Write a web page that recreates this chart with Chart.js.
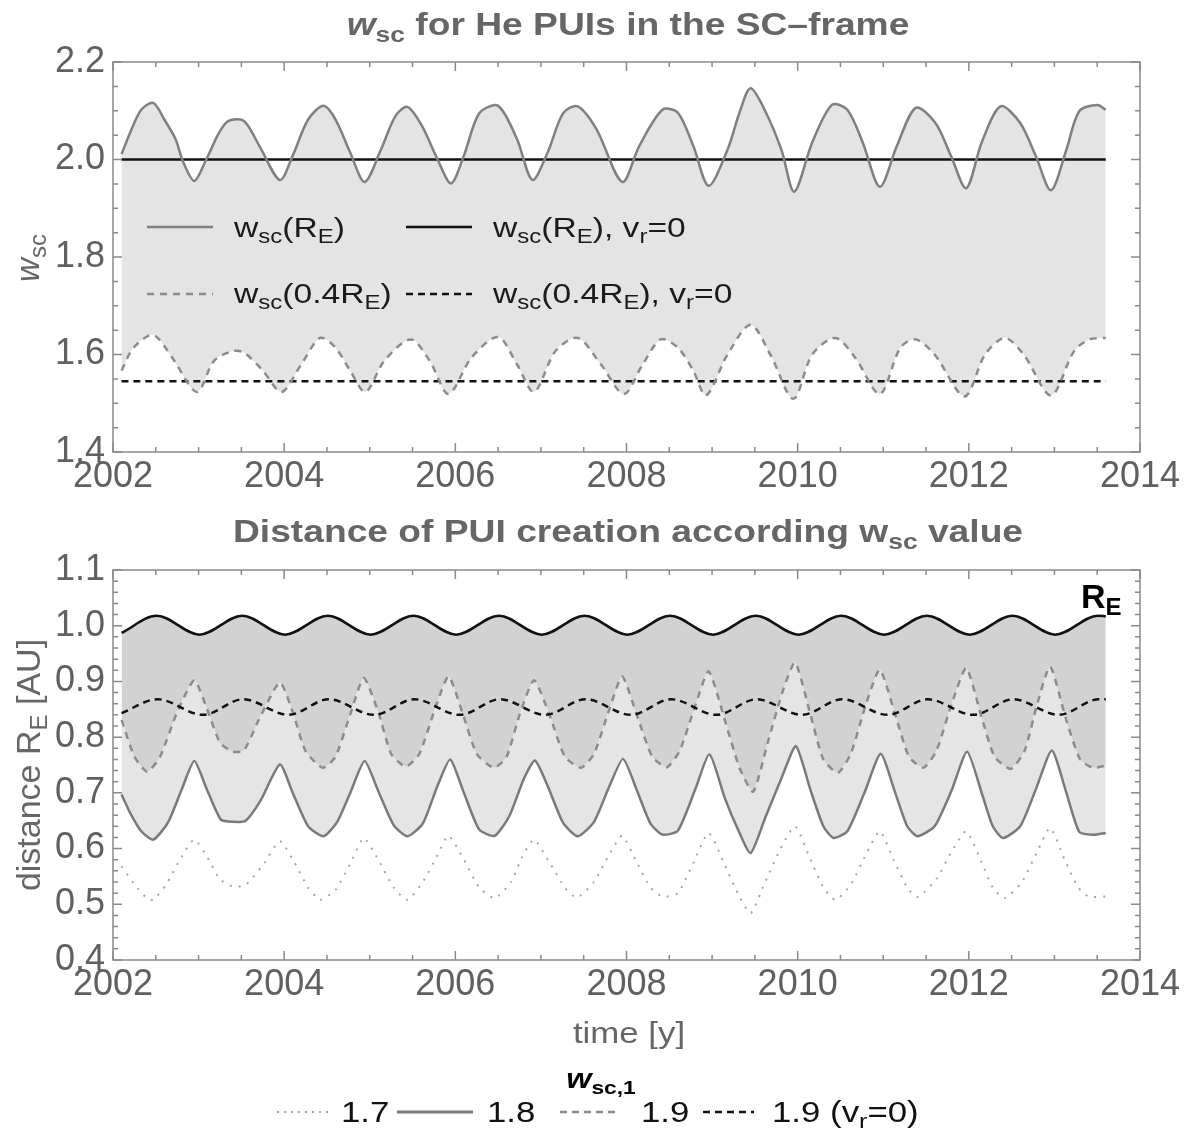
<!DOCTYPE html>
<html>
<head>
<meta charset="utf-8">
<script src="https://cdn.jsdelivr.net/npm/chart.js@4.4.1/dist/chart.umd.min.js"></script>
<style>
  html, body { margin: 0; padding: 0; background: #fff; }
  #wrap { position: relative; width: 1189px; height: 1135px; }
  canvas { position: absolute; left: 0; }
  #top { top: 0; }
  #bot { top: 505px; }
</style>
</head>
<body>
<div id="wrap">
  <canvas id="top" width="1189" height="505"></canvas>
  <canvas id="bot" width="1189" height="630"></canvas>
</div>
<script>
// ---- data ----
const yearTicks = [2002, 2004, 2006, 2008, 2010, 2012, 2014];
const wscTicks = [1.4, 1.6, 1.8, 2.0, 2.2];
const distTicks = [0.4, 0.5, 0.6, 0.7, 0.8, 0.9, 1.0, 1.1];

// top panel: w_sc(R_E)
const wscYears = [2002.10, 2002.20, 2002.33, 2002.47, 2002.60, 2002.73, 2002.82, 2002.95,
  2003.09, 2003.24, 2003.35, 2003.53, 2003.71, 2003.95,
  2004.10, 2004.28, 2004.46, 2004.60, 2004.77, 2004.94,
  2005.13, 2005.30, 2005.44, 2005.61, 2005.79, 2005.95,
  2006.10, 2006.28, 2006.50, 2006.72, 2006.90,
  2007.08, 2007.26, 2007.43, 2007.65, 2007.95,
  2008.15, 2008.42, 2008.60, 2008.78, 2008.96,
  2009.18, 2009.32, 2009.45, 2009.63, 2009.81, 2009.96,
  2010.17, 2010.40, 2010.58, 2010.76, 2010.96,
  2011.16, 2011.38, 2011.61, 2011.79, 2011.97,
  2012.15, 2012.37, 2012.60, 2012.78, 2012.96,
  2013.14, 2013.29, 2013.50, 2013.60];
const wscRE = [2.011, 2.055, 2.102, 2.116, 2.082, 2.042, 1.995, 1.956,
  2.000, 2.055, 2.079, 2.079, 2.028, 1.958,
  2.008, 2.082, 2.110, 2.082, 2.015, 1.954,
  2.020, 2.089, 2.108, 2.069, 2.001, 1.951,
  2.008, 2.095, 2.110, 2.042, 1.958,
  2.015, 2.095, 2.109, 2.062, 1.954,
  2.028, 2.102, 2.096, 2.028, 1.946,
  2.020, 2.096, 2.146, 2.096, 2.020, 1.934,
  2.035, 2.112, 2.102, 2.035, 1.944,
  2.028, 2.106, 2.075, 2.008, 1.941,
  2.035, 2.109, 2.075, 2.008, 1.937,
  2.020, 2.099, 2.112, 2.102];

// top panel: w_sc(0.4 R_E)
const wsc04Years = [2002.10, 2002.24, 2002.47, 2002.69, 2002.98, 2003.18, 2003.40, 2003.53, 2003.75, 2003.97,
  2004.20, 2004.42, 2004.60, 2004.77, 2004.95, 2005.17, 2005.48, 2005.70, 2005.92,
  2006.19, 2006.50, 2006.72, 2006.92, 2007.17, 2007.43, 2007.70, 2007.97,
  2008.19, 2008.40, 2008.60, 2008.78, 2008.93, 2009.18, 2009.45, 2009.68, 2009.95,
  2010.17, 2010.44, 2010.67, 2010.96, 2011.20, 2011.38, 2011.60, 2011.95,
  2012.19, 2012.42, 2012.64, 2012.96, 2013.23, 2013.41, 2013.60];
const wsc04 = [1.567, 1.614, 1.640, 1.594, 1.523, 1.587, 1.607, 1.604, 1.567, 1.523,
  1.580, 1.634, 1.614, 1.567, 1.523, 1.587, 1.631, 1.587, 1.519,
  1.594, 1.636, 1.580, 1.523, 1.607, 1.634, 1.580, 1.519,
  1.580, 1.631, 1.614, 1.567, 1.516, 1.600, 1.661, 1.600, 1.509,
  1.600, 1.634, 1.594, 1.519, 1.614, 1.631, 1.600, 1.514,
  1.600, 1.634, 1.600, 1.516, 1.607, 1.631, 1.634];

// top panel: v_r = 0 reference levels
const flatYears = [2002.10, 2013.60];
const wscREvr0 = [2.0, 2.0];
const wsc04vr0 = [1.545, 1.545];

// bottom panel: R_E (AU)
const reYears = [2002.10, 2002.51, 2003.01, 2003.51, 2004.01, 2004.51, 2005.01, 2005.51, 2006.01, 2006.51,
  2007.01, 2007.51, 2008.01, 2008.51, 2009.01, 2009.51, 2010.01, 2010.51, 2011.01, 2011.51,
  2012.01, 2012.51, 2013.01, 2013.51, 2013.60];
const reDist = [0.987, 1.018, 0.984, 1.018, 0.984, 1.018, 0.984, 1.018, 0.984, 1.018,
  0.984, 1.018, 0.984, 1.018, 0.984, 1.018, 0.984, 1.018, 0.984, 1.018,
  0.984, 1.018, 0.984, 1.018, 1.017];

// bottom panel: w_sc,1 = 1.9, v_r = 0
const vr0Years = [2002.10, 2002.52, 2003.05, 2003.52, 2004.05, 2004.52, 2005.05, 2005.52, 2006.05, 2006.52,
  2007.05, 2007.52, 2008.05, 2008.52, 2009.05, 2009.52, 2010.05, 2010.52, 2011.05, 2011.52,
  2012.05, 2012.52, 2013.05, 2013.52, 2013.60];
const vr0Dist = [0.843, 0.868, 0.840, 0.868, 0.840, 0.868, 0.840, 0.868, 0.840, 0.868,
  0.840, 0.868, 0.840, 0.868, 0.840, 0.868, 0.840, 0.868, 0.840, 0.868,
  0.840, 0.868, 0.840, 0.868, 0.868];

// bottom panel: w_sc,1 = 1.9
const d19Years = [2002.10, 2002.25, 2002.40, 2002.55, 2002.75, 2002.95, 2003.10, 2003.25, 2003.40, 2003.53, 2003.70, 2003.95,
  2004.10, 2004.25, 2004.45, 2004.60, 2004.77, 2004.93, 2005.10, 2005.25, 2005.42, 2005.58, 2005.75, 2005.92,
  2006.08, 2006.25, 2006.45, 2006.60, 2006.75, 2006.92, 2007.10, 2007.28, 2007.47, 2007.62, 2007.80, 2007.95,
  2008.12, 2008.30, 2008.47, 2008.62, 2008.80, 2008.96, 2009.15, 2009.32, 2009.48, 2009.65, 2009.82, 2009.97,
  2010.15, 2010.30, 2010.47, 2010.62, 2010.80, 2010.96, 2011.15, 2011.30, 2011.47, 2011.62, 2011.80, 2011.97,
  2012.15, 2012.30, 2012.49, 2012.65, 2012.80, 2012.95, 2013.13, 2013.30, 2013.45, 2013.60];
const d19 = [0.831, 0.765, 0.738, 0.765, 0.845, 0.902, 0.850, 0.790, 0.774, 0.776, 0.830, 0.898,
  0.845, 0.775, 0.745, 0.765, 0.840, 0.906, 0.845, 0.770, 0.747, 0.770, 0.845, 0.909,
  0.845, 0.770, 0.745, 0.765, 0.840, 0.902, 0.840, 0.765, 0.745, 0.770, 0.850, 0.909,
  0.840, 0.765, 0.746, 0.775, 0.855, 0.918, 0.830, 0.745, 0.702, 0.790, 0.880, 0.934,
  0.840, 0.760, 0.736, 0.770, 0.860, 0.921, 0.835, 0.765, 0.745, 0.775, 0.860, 0.924,
  0.835, 0.765, 0.743, 0.775, 0.860, 0.927, 0.835, 0.760, 0.745, 0.749];

// bottom panel: w_sc,1 = 1.8
const d18Years = [2002.10, 2002.20, 2002.33, 2002.47, 2002.64, 2002.80, 2002.95, 2003.10, 2003.26, 2003.40, 2003.55, 2003.72, 2003.95,
  2004.10, 2004.28, 2004.46, 2004.62, 2004.78, 2004.94, 2005.10, 2005.28, 2005.44, 2005.62, 2005.79, 2005.94,
  2006.10, 2006.28, 2006.46, 2006.63, 2006.80, 2006.93, 2007.08, 2007.26, 2007.43, 2007.62, 2007.80, 2007.96,
  2008.12, 2008.28, 2008.42, 2008.60, 2008.80, 2008.97, 2009.15, 2009.30, 2009.45, 2009.62, 2009.82, 2009.98,
  2010.15, 2010.30, 2010.42, 2010.58, 2010.78, 2010.97, 2011.14, 2011.28, 2011.40, 2011.60, 2011.80, 2011.98,
  2012.15, 2012.28, 2012.40, 2012.60, 2012.78, 2012.97, 2013.14, 2013.29, 2013.45, 2013.60];
const d18 = [0.697, 0.664, 0.631, 0.616, 0.646, 0.705, 0.757, 0.705, 0.652, 0.648, 0.650, 0.685, 0.751,
  0.700, 0.640, 0.622, 0.648, 0.703, 0.757, 0.703, 0.642, 0.622, 0.645, 0.712, 0.760,
  0.700, 0.634, 0.623, 0.658, 0.725, 0.758, 0.712, 0.646, 0.622, 0.648, 0.712, 0.761,
  0.705, 0.645, 0.625, 0.632, 0.705, 0.769, 0.690, 0.635, 0.592, 0.655, 0.730, 0.784,
  0.705, 0.640, 0.619, 0.631, 0.700, 0.770, 0.700, 0.640, 0.622, 0.640, 0.705, 0.774,
  0.700, 0.640, 0.619, 0.640, 0.705, 0.776, 0.700, 0.630, 0.625, 0.628];

// bottom panel: w_sc,1 = 1.7
const d17Years = [2002.10, 2002.24, 2002.40, 2002.47, 2002.62, 2002.80, 2002.95, 2003.10, 2003.25, 2003.40, 2003.55, 2003.75, 2003.95,
  2004.12, 2004.28, 2004.42, 2004.60, 2004.78, 2004.93, 2005.10, 2005.28, 2005.44, 2005.62, 2005.78, 2005.92,
  2006.10, 2006.28, 2006.46, 2006.65, 2006.78, 2006.92, 2007.10, 2007.28, 2007.42, 2007.62, 2007.80, 2007.95,
  2008.12, 2008.28, 2008.42, 2008.60, 2008.78, 2008.96, 2009.15, 2009.30, 2009.45, 2009.62, 2009.80, 2009.97,
  2010.15, 2010.30, 2010.44, 2010.62, 2010.80, 2010.96, 2011.12, 2011.28, 2011.40, 2011.62, 2011.80, 2011.97,
  2012.15, 2012.28, 2012.42, 2012.62, 2012.80, 2012.95, 2013.12, 2013.28, 2013.40, 2013.60];
const d17 = [0.568, 0.538, 0.510, 0.508, 0.535, 0.585, 0.616, 0.585, 0.545, 0.532, 0.535, 0.570, 0.613,
  0.575, 0.530, 0.508, 0.526, 0.575, 0.619, 0.580, 0.530, 0.508, 0.540, 0.585, 0.623,
  0.580, 0.530, 0.511, 0.540, 0.585, 0.616, 0.575, 0.530, 0.512, 0.540, 0.590, 0.623,
  0.575, 0.530, 0.514, 0.520, 0.574, 0.628, 0.570, 0.520, 0.484, 0.540, 0.600, 0.640,
  0.580, 0.530, 0.508, 0.535, 0.590, 0.631, 0.580, 0.530, 0.513, 0.545, 0.595, 0.631,
  0.575, 0.530, 0.511, 0.540, 0.595, 0.637, 0.580, 0.530, 0.514, 0.514];

// ---- helpers ----
const FONT = '"Liberation Sans", Arial, Helvetica, sans-serif';
const TICK = '#606060';
const TITLE = '#666666';
const WIDE = 1.2; // the figure's lettering is drawn a little wider than tall
Chart.defaults.font.family = FONT;

const pts = (xs, ys) => xs.map((x, i) => ({ x: x, y: ys[i] }));

// draw text made of runs: [text, flags] where flags may hold 's' (subscript) and 'i' (italic)
function rich(ctx, parts, x, y, size, color, bold, align, stretch = 1) {
  const sub = Math.round(size * 0.72);
  const fontOf = f => (f.includes('i') ? 'italic ' : '') + (bold ? 'bold ' : '') +
    (f.includes('s') ? sub : size) + 'px ' + FONT;
  let w = 0;
  parts.forEach(([t, f = '']) => { ctx.font = fontOf(f); w += ctx.measureText(t).width; });
  const start = align === 'center' ? x - w * stretch / 2 : x;
  ctx.save();
  ctx.translate(start, y);
  ctx.scale(stretch, 1);
  ctx.fillStyle = color;
  ctx.textAlign = 'left';
  ctx.textBaseline = 'alphabetic';
  let cx = 0;
  parts.forEach(([t, f = '']) => {
    ctx.font = fontOf(f);
    ctx.fillText(t, cx, f.includes('s') ? size * 0.22 : 0);
    cx += ctx.measureText(t).width;
  });
  ctx.restore();
}

function sample(ctx, x1, x2, y, color, width, dash) {
  ctx.save();
  ctx.strokeStyle = color;
  ctx.lineWidth = width;
  ctx.setLineDash(dash || []);
  ctx.beginPath();
  ctx.moveTo(x1, y);
  ctx.lineTo(x2, y);
  ctx.stroke();
  ctx.restore();
}

// Mathematica style frame with inward ticks on all four sides
function framePlugin(yStep, yMajor) {
  return {
    id: 'frame',
    afterDatasetsDraw(chart) {
      const { ctx, chartArea: a, scales: { x, y } } = chart;
      ctx.save();
      ctx.strokeStyle = '#8a8a8a';
      ctx.lineWidth = 1.5;
      ctx.strokeRect(a.left, a.top, a.width, a.height);
      ctx.beginPath();
      for (let i = 0; i <= 24; i++) {
        const px = x.getPixelForValue(2002 + i * 0.5);
        const L = i % 4 === 0 ? 9 : 5;
        ctx.moveTo(px, a.bottom); ctx.lineTo(px, a.bottom - L);
        ctx.moveTo(px, a.top); ctx.lineTo(px, a.top + L);
      }
      const n = Math.round((y.max - y.min) / yStep);
      const every = Math.round(yMajor / yStep);
      for (let i = 0; i <= n; i++) {
        const py = y.getPixelForValue(y.min + i * yStep);
        const L = i % every === 0 ? 9 : 5;
        ctx.moveTo(a.left, py); ctx.lineTo(a.left + L, py);
        ctx.moveTo(a.right, py); ctx.lineTo(a.right - L, py);
      }
      ctx.stroke();
      ctx.restore();
    }
  };
}

function options(yMin, yMax, yTicks, padTop, padBottom) {
  return {
    responsive: false,
    animation: false,
    events: [],
    layout: { padding: { top: padTop, right: 49, bottom: padBottom, left: 0 } },
    plugins: {
      legend: { display: false },
      tooltip: { enabled: false },
      filler: { drawTime: 'beforeDatasetsDraw' }
    },
    elements: { point: { radius: 0 }, line: { tension: 0.3 } },
    scales: {
      x: {
        type: 'linear', min: 2002, max: 2014,
        grid: { display: false, drawTicks: false },
        border: { display: false },
        afterBuildTicks: s => { s.ticks = yearTicks.map(v => ({ value: v })); },
        ticks: { callback: v => String(v), color: TICK, font: { size: 36 }, padding: 3, maxRotation: 0, autoSkip: false },
        afterFit: s => { s.height = 53; }
      },
      y: {
        type: 'linear', min: yMin, max: yMax,
        grid: { display: false, drawTicks: false },
        border: { display: false },
        afterBuildTicks: s => { s.ticks = yTicks.map(v => ({ value: v })); },
        ticks: { callback: v => v.toFixed(1), color: TICK, font: { size: 36 }, padding: 8, autoSkip: false },
        afterFit: s => { s.width = 113; }
      }
    }
  };
}

// ---- top chart ----
new Chart(document.getElementById('top'), {
  type: 'line',
  data: {
    datasets: [
      { data: pts(wscYears, wscRE), borderColor: '#808080', borderWidth: 2.5, fill: 2, backgroundColor: '#e4e4e4' },
      { data: pts(flatYears, wscREvr0), borderColor: '#111111', borderWidth: 2.5, fill: false },
      { data: pts(wsc04Years, wsc04), borderColor: '#8c8c8c', borderWidth: 2.5, borderDash: [7, 6], fill: false },
      { data: pts(flatYears, wsc04vr0), borderColor: '#111111', borderWidth: 2.5, borderDash: [7, 5], fill: false }
    ]
  },
  options: options(1.4, 2.2, wscTicks, 62, 0),
  plugins: [framePlugin(0.05, 0.2), {
    id: 'topText',
    afterDraw(chart) {
      const ctx = chart.ctx;
      rich(ctx, [['w', 'i'], ['sc', 's'], [' for He PUIs in the SC\u2013frame']], 628, 35, 31, TITLE, true, 'center', WIDE);
      ctx.save();
      ctx.translate(39, 258);
      ctx.rotate(-Math.PI / 2);
      rich(ctx, [['w', 'i'], ['sc', 's']], 0, 0, 33, TITLE, false, 'center');
      ctx.restore();
      // legend inside the plot
      sample(ctx, 147, 213, 227, '#808080', 2.5);
      sample(ctx, 406, 472, 227, '#111111', 2.5);
      sample(ctx, 147, 213, 294, '#8c8c8c', 2.5, [7, 6]);
      sample(ctx, 406, 472, 294, '#111111', 2.5, [7, 5]);
      const ink = '#1a1a1a';
      rich(ctx, [['w'], ['sc', 's'], ['(R'], ['E', 's'], [')']], 234, 237, 28, ink, false, 'left', WIDE);
      rich(ctx, [['w'], ['sc', 's'], ['(R'], ['E', 's'], ['), v'], ['r', 's'], ['=0']], 493, 237, 28, ink, false, 'left', WIDE);
      rich(ctx, [['w'], ['sc', 's'], ['(0.4R'], ['E', 's'], [')']], 234, 303, 28, ink, false, 'left', WIDE);
      rich(ctx, [['w'], ['sc', 's'], ['(0.4R'], ['E', 's'], ['), v'], ['r', 's'], ['=0']], 493, 303, 28, ink, false, 'left', WIDE);
    }
  }]
});

// ---- bottom chart ----
new Chart(document.getElementById('bot'), {
  type: 'line',
  data: {
    datasets: [
      { data: pts(reYears, reDist), borderColor: '#111111', borderWidth: 2.5, cubicInterpolationMode: 'monotone', fill: 2, backgroundColor: '#d2d2d2' },
      { data: pts(vr0Years, vr0Dist), borderColor: '#111111', borderWidth: 2.5, borderDash: [7, 5], cubicInterpolationMode: 'monotone', fill: false },
      { data: pts(d19Years, d19), borderColor: '#8c8c8c', borderWidth: 2.5, borderDash: [7, 6], tension: 0.2, fill: 3, backgroundColor: '#e5e5e5' },
      { data: pts(d18Years, d18), borderColor: '#7a7a7a', borderWidth: 2.5, tension: 0.2, fill: false },
      { data: pts(d17Years, d17), borderColor: '#a6a6a6', borderWidth: 2, borderDash: [2, 7], tension: 0.2, fill: false }
    ]
  },
  options: options(0.4, 1.1, distTicks, 65, 122),
  plugins: [framePlugin(0.02, 0.1), {
    id: 'botText',
    afterDraw(chart) {
      const ctx = chart.ctx;
      rich(ctx, [['Distance of PUI creation according w'], ['sc', 's'], [' value']], 628, 37, 31, TITLE, true, 'center', WIDE);
      rich(ctx, [['R'], ['E', 's']], 1081, 103, 34, '#000000', true);
      ctx.save();
      ctx.translate(40, 260);
      ctx.rotate(-Math.PI / 2);
      rich(ctx, [['distance R'], ['E', 's'], [' [AU]']], 0, 0, 34, TITLE, false, 'center');
      ctx.restore();
      rich(ctx, [['time [y]']], 629, 538, 29, TITLE, false, 'center', WIDE);
      // legend below the chart
      rich(ctx, [['w', 'i'], ['sc,1', 's']], 601, 583, 27, '#000000', true, 'center', WIDE);
      sample(ctx, 277, 330, 607, '#a6a6a6', 2, [2, 5]);
      sample(ctx, 397, 473, 607, '#7a7a7a', 3);
      sample(ctx, 560, 618, 607, '#8c8c8c', 2.5, [7, 5]);
      sample(ctx, 703, 754, 607, '#111111', 2.5, [7, 5]);
      const ink = '#111111';
      rich(ctx, [['1.7']], 341, 617, 29, ink, false, 'left', WIDE);
      rich(ctx, [['1.8']], 487, 617, 29, ink, false, 'left', WIDE);
      rich(ctx, [['1.9']], 641, 617, 29, ink, false, 'left', WIDE);
      rich(ctx, [['1.9 (v'], ['r', 's'], ['=0)']], 772, 617, 29, ink, false, 'left', WIDE);
    }
  }]
});
</script>
</body>
</html>
